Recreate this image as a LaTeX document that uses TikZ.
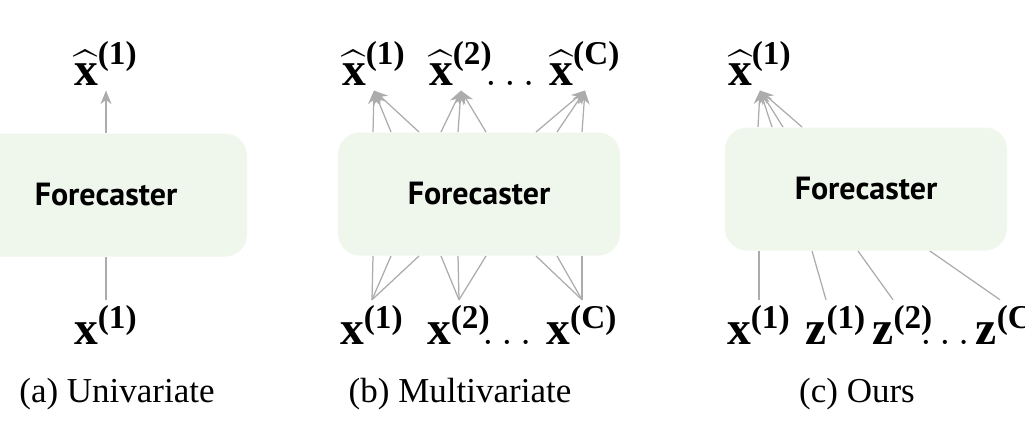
\documentclass[tikz,border=0pt]{standalone}
\usepackage{amsmath}
\usepackage{fontspec}
\setmainfont{Liberation Serif}
\newfontfamily\boxfont{PT Sans}
\usetikzlibrary{arrows.meta}
\definecolor{boxgreen}{RGB}{239,246,235}
\definecolor{linkgray}{RGB}{172,172,172}
\newcommand{\xh}[1]{$\widehat{\textbf{x}}^{\textbf{(#1)}}$}
\newcommand{\xv}[1]{$\textbf{x}^{\textbf{(#1)}}$}
\newcommand{\zv}[1]{$\textbf{z}^{\textbf{(#1)}}$}
\tikzset{
	fcbox/.style={fill=boxgreen, rounded corners=8.8pt, minimum width=112.8pt,
		minimum height=49.2pt, font=\boxfont\bfseries\fontsize{12.8}{15}\selectfont},
	var/.style={anchor=base, inner sep=2pt, font=\fontsize{19}{22}\selectfont},
	link/.style={draw=linkgray, line width=0.5pt},
	arr/.style={link, -{Stealth[length=5.5pt,width=4.5pt]}},
	capt/.style={anchor=base, font=\fontsize{14}{17}\selectfont}
}
\begin{document}
\begin{tikzpicture}[x=0.4pt, y=-0.4pt]
	\useasboundingbox (0,0) rectangle (1025,436);
	% (a)
	\node[fcbox] (fa) at (106,195) {Forecaster};
	\node[var] (xha1) at (106,85) {\xh{1}};
	\node[var] (xa1) at (106,344) {\xv{1}};
	\draw[arr] (fa.north) -- (xha1.south);
	\draw[link] (xa1.north) -- (fa.south);
	\node[capt] (capa) at (117,402) {(a) Univariate};
	% (b)
	\node[fcbox] (fb) at (479,194) {Forecaster};
	\node[var] (xhb1) at (374,85) {\xh{1}};
	\node[var] (xhb2) at (461,85) {\xh{2}};
	\node[var] (dotsbt) at (510,85) {$\ldots$};
	\node[var] (xhbC) at (585,85) {\xh{C}};
	\node[var] (xb1) at (372,344) {\xv{1}};
	\node[var] (xb2) at (459,344) {\xv{2}};
	\node[var] (dotsbb) at (507,344) {$\ldots$};
	\node[var] (xbC) at (582,344) {\xv{C}};
	\foreach \v/\pts in {1/{373,391,419}, 2/{441,458,486}, C/{536,557,582}} {
		\foreach \p in \pts {
			\draw[arr] (\p,0 |- fb.north) -- (xhb\v.south);
			\draw[link] (xb\v.north) -- (\p,0 |- fb.south);
		}
	}
	\node[capt] (capb) at (460,402) {(b) Multivariate};
	% (c)
	\node[fcbox] (fc) at (866,189) {Forecaster};
	\node[var] (xhc1) at (760,85) {\xh{1}};
	\foreach \p in {758,772,783,802}
		\draw[arr] (\p,0 |- fc.north) -- (xhc1.south);
	\node[var] (xc1) at (759,344) {\xv{1}};
	\node[var] (zc1) at (836,344) {\zv{1}};
	\node[var] (zc2) at (903,344) {\zv{2}};
	\node[var] (dotsc) at (945,344) {$\ldots$};
	\node[var] (zcC) at (1010,344) {\zv{C}};
	\draw[link] (xc1.north) -- (xc1.north |- fc.south);
	\foreach \v/\p in {1/812, 2/858, C/930}
		\draw[link] ([xshift=-4pt]zc\v.north) -- (\p,0 |- fc.south);
	\node[capt] (capc) at (857,402) {(c) Ours};
\end{tikzpicture}
\end{document}
